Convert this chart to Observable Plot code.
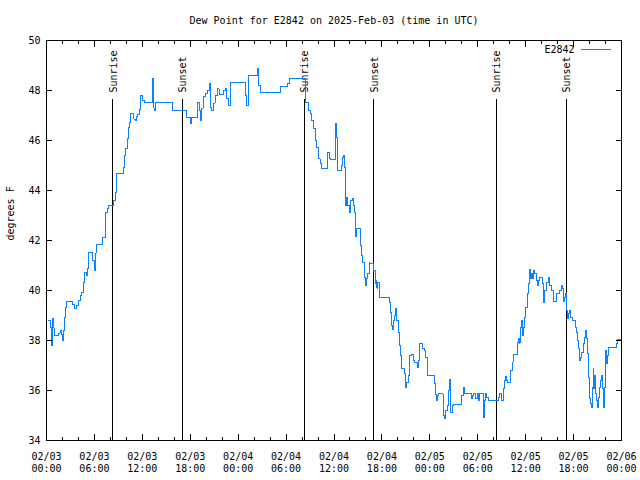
<!DOCTYPE html>
<html>
<head>
<meta charset="utf-8">
<script src="https://cdn.jsdelivr.net/npm/d3@7"></script>
<script src="https://cdn.jsdelivr.net/npm/@observablehq/plot@0.6"></script>
<style>
  body { margin: 0; background: #fff; }
  svg { shape-rendering: crispEdges; }
  svg text { shape-rendering: auto; }
</style>
</head>
<body>
<div id="chart"></div>
<script>
const title = "Dew Point for E2842 on 2025-Feb-03 (time in UTC)";
const yLabel = "degrees F";
const seriesName = "E2842";

// hours since 2025-02-03 00:00 UTC
const hours = [
  0.25,0.45,0.58,0.7,0.79,0.9,1.04,1.54,1.7,1.84,2.0,2.1,2.25,2.38,2.5,3.3,3.45,3.76,3.95,4.2,
  4.38,4.59,4.76,4.95,5.18,5.3,5.8,5.95,6.1,6.26,6.95,7.43,7.6,7.8,8.43,8.6,8.72,8.81,9.64,9.77,
  9.93,10.1,10.27,10.39,10.52,10.95,11.1,11.3,11.44,11.64,11.81,12.06,12.31,13.25,13.3,13.4,13.52,13.7,15.82,17.5,
  17.78,17.99,18.2,18.95,19.1,19.3,19.45,19.6,19.9,20.2,20.35,20.5,20.7,20.9,21.11,21.4,21.6,22.2,22.37,22.6,
  22.79,23.0,24.95,25.09,25.3,26.46,26.6,26.75,29.26,30.22,30.39,32.47,32.8,33.0,33.22,33.43,33.64,33.85,34.06,34.25,
  34.47,35.23,35.4,35.6,36.23,36.3,36.44,36.9,37.07,37.2,37.27,37.4,37.48,37.6,37.75,37.99,38.1,38.32,38.45,38.6,
  38.65,38.75,38.86,39.35,39.49,39.62,39.78,39.99,40.1,40.24,40.41,40.5,41.0,41.15,41.28,41.35,41.49,41.66,41.73,42.9,
  43.03,43.16,43.33,43.45,43.62,43.74,43.87,44.04,44.24,44.37,44.5,44.8,44.91,45.0,45.12,45.3,45.5,45.7,45.91,46.1,
  46.45,46.6,46.75,47.08,47.3,47.5,47.71,47.75,48.58,48.66,48.8,48.95,49.08,49.65,49.71,49.84,50.0,50.2,50.35,50.5,
  50.6,50.8,51.0,52.0,52.21,52.35,53.18,53.3,53.51,53.72,53.93,54.05,54.22,54.68,54.76,54.88,55.0,55.1,55.3,56.64,
  56.76,56.97,57.18,57.3,57.51,57.65,57.75,58.14,58.3,58.42,58.5,58.94,59.07,59.2,59.35,59.47,59.6,59.77,59.9,60.02,
  60.18,60.3,60.43,60.52,60.64,60.72,60.85,61.02,61.15,61.35,61.48,61.61,61.69,62.1,62.27,62.4,62.6,62.82,63.03,63.24,
  63.44,63.86,64.28,64.49,64.61,64.78,64.86,65.03,65.11,65.2,65.32,65.53,65.66,65.83,66.2,66.37,66.5,66.62,66.79,66.87,
  67.0,67.2,67.33,67.5,67.62,67.75,67.87,68.04,68.16,68.25,68.37,68.45,68.54,68.66,68.79,68.87,69.0,69.16,69.29,69.41,
  69.5,69.62,69.7,69.83,69.95,70.04,70.16,70.29,70.41,71.37,71.53,72.0
];
const dewpoint = [
  38.8,38.53,37.8,38.6,38.87,38.5,38.2,38.3,38.4,38.25,38.0,38.4,38.93,39.33,39.57,39.45,39.27,39.4,39.6,39.8,
  39.93,40.33,40.73,40.6,40.87,41.53,41.2,40.8,41.5,41.84,42.12,43.13,43.3,43.4,43.6,43.93,44.4,44.67,44.92,45.4,
  45.67,46.08,46.53,46.73,47.07,46.85,46.8,46.95,47.05,47.24,47.8,47.6,47.51,47.7,48.47,47.3,47.2,47.51,47.2,46.93,
  46.91,46.67,46.91,47.53,47.2,46.8,47.3,47.76,47.87,48.0,48.3,47.33,47.2,47.5,47.8,48.07,47.83,48.0,48.07,47.67,
  47.4,48.33,47.8,47.4,48.6,48.87,48.2,47.93,48.16,48.27,48.47,47.53,47.2,47.1,46.8,46.47,46.0,45.73,45.27,45.1,
  44.87,45.53,45.3,45.23,46.67,46.13,44.8,45.0,45.33,45.4,44.93,43.93,43.4,43.73,43.4,43.13,43.6,43.67,43.4,43.13,
  42.53,42.16,42.47,41.8,41.4,41.13,40.53,40.2,40.47,40.67,41.13,41.07,40.8,40.27,40.4,40.1,40.33,39.87,39.71,39.53,
  39.13,38.6,38.43,38.8,39.0,39.27,38.8,38.33,37.8,37.4,36.87,36.67,36.33,36.13,36.33,36.6,37.4,37.45,37.2,37.13,
  36.93,37.2,37.87,37.67,37.6,37.33,36.8,36.6,36.27,35.84,35.6,35.8,35.87,35.6,35.0,34.87,35.2,35.4,36.0,36.43,
  35.13,35.4,35.44,35.8,36.13,35.87,35.67,35.8,35.87,35.67,35.87,35.6,35.87,35.2,34.93,35.6,35.87,35.73,35.6,35.73,
  35.87,35.6,36.07,36.4,36.56,36.4,36.31,36.8,37.13,37.33,37.43,37.93,38.1,37.9,38.53,38.8,38.2,38.53,38.93,39.33,
  39.87,40.27,40.53,40.83,40.47,40.67,40.47,40.8,40.67,40.4,40.2,40.4,40.51,40.27,39.53,40.0,40.33,40.51,40.2,40.0,
  39.56,39.87,40.0,40.2,40.07,39.57,39.73,39.87,39.2,38.87,39.07,39.2,38.93,38.8,38.53,38.33,38.0,37.67,37.2,37.33,
  37.53,37.87,38.13,38.4,38.07,37.47,36.53,35.67,35.47,35.33,36.13,36.87,36.07,36.6,35.87,35.6,35.33,35.73,36.13,36.4,
  36.6,36.07,35.33,36.13,37.0,37.6,37.07,37.4,37.71,37.87,38.03,38.0
];

const sunHours = [8.3, 17.0, 32.25, 40.98, 56.3, 65.07];
const sunLabels = ["Sunrise", "Sunset", "Sunrise", "Sunset", "Sunrise", "Sunset"];

const yTicks = [34, 36, 38, 40, 42, 44, 46, 48, 50];
const xMajorHours = [0, 6, 12, 18, 24, 30, 36, 42, 48, 54, 60, 66, 72];
const xMinorHours = [2, 4, 8, 10, 14, 16, 20, 22, 26, 28, 32, 34, 38, 40, 44, 46, 50, 52, 56, 58, 62, 64, 68, 70];

const lineColor = "#0a82ff";

const t0 = Date.UTC(2025, 1, 3);
const toDate = h => new Date(t0 + h * 3600e3);
const data = hours.map((h, i) => ({time: toDate(h), value: dewpoint[i]}));
const sun = sunHours.map((h, i) => ({time: toDate(h), label: sunLabels[i]}));
const majors = xMajorHours.map(toDate);
const minors = xMinorHours.map(toDate);
const fmt = d3.utcFormat("%m/%d\n%H:%M");
const lineShape = {draw(c, l) { c.moveTo(0, 0); c.lineTo(0, -l); }};

const plot = Plot.plot({
  width: 640,
  height: 480,
  marginTop: 40,
  marginBottom: 40,
  marginLeft: 46,
  marginRight: 19,
  style: {fontFamily: "'DejaVu Sans Mono', monospace", fontSize: "10px", background: "#fff", color: "#000"},
  x: {type: "utc", domain: [toDate(0), toDate(72)]},
  y: {domain: [34, 50]},
  marks: [
    Plot.ruleX(sun, {x: "time", insetTop: 59, stroke: "#000"}),
    Plot.text(sun, {x: "time", text: "label", frameAnchor: "top", dy: 52, dx: 1, rotate: -90, textAnchor: "start", lineAnchor: "middle", fill: "#000"}),
    Plot.line(data, {x: "time", y: "value", curve: "step-after", stroke: lineColor, strokeWidth: 1}),
    Plot.frame({stroke: "#000"}),
    // x ticks (inward), bottom and top
    Plot.axisX({ticks: majors, anchor: "bottom", tickSize: -6, fill: "none", label: null}),
    Plot.axisX({ticks: minors, anchor: "bottom", tickSize: -3, fill: "none", label: null}),
    Plot.axisX({ticks: majors, anchor: "top", tickSize: -6, fill: "none", label: null}),
    Plot.axisX({ticks: minors, anchor: "top", tickSize: -3, fill: "none", label: null}),
    Plot.axisX({ticks: majors, anchor: "bottom", tickSize: 0, tickPadding: 11, tickFormat: fmt, lineHeight: 1.2, label: null, fill: "#000"}),
    // y ticks (inward), left and right
    Plot.axisY({ticks: yTicks, anchor: "left", tickSize: -6, fill: "none", label: null}),
    Plot.axisY({ticks: yTicks, anchor: "right", tickSize: -6, fill: "none", label: null}),
    Plot.axisY({ticks: yTicks, anchor: "left", tickSize: 0, tickPadding: 6, label: null, fill: "#000"}),
    // title and y label
    Plot.text([title], {frameAnchor: "top", dy: -20, lineAnchor: "middle", fill: "#000"}),
    Plot.text([yLabel], {frameAnchor: "left", dx: -36, rotate: -90, lineAnchor: "middle", fill: "#000"}),
    // legend
    Plot.text([seriesName], {frameAnchor: "top-right", dx: -47, dy: 9, textAnchor: "end", lineAnchor: "middle", fill: "#000"}),
    Plot.vector([seriesName], {frameAnchor: "top-right", dx: -40, dy: 9, rotate: 90, length: 29, anchor: "start", shape: lineShape, stroke: lineColor, strokeWidth: 1})
  ]
});
document.getElementById("chart").appendChild(plot);
</script>
</body>
</html>
